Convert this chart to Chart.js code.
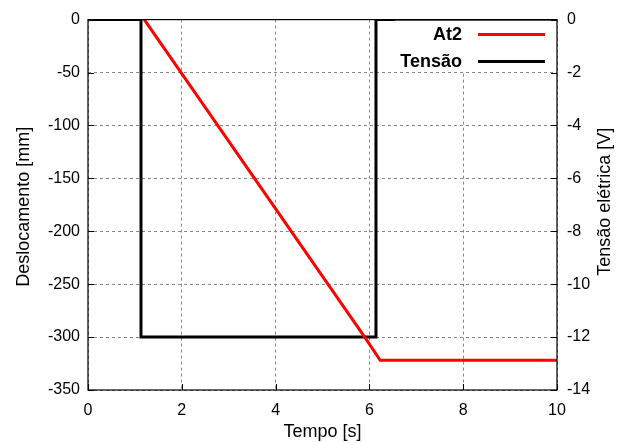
<!DOCTYPE html>
<html>
<head>
<meta charset="utf-8">
<script src="https://cdn.jsdelivr.net/npm/chart.js@4/dist/chart.umd.min.js"></script>
<style>
html,body{margin:0;padding:0;background:#fff;}
#wrap{width:619px;height:442px;}
</style>
</head>
<body>
<div id="wrap"><canvas id="c" width="619" height="442"></canvas></div>
<script>
// Data
const timeDisp = [1.2, 5.9, 6.23, 10];
const dispAt2 = [0, -300, -322, -322];
const timeVolt = [0, 1.13, 1.13, 6.14, 6.14, 10];
const voltTensao = [0, 0, -12, -12, 0, 0];
const seriesNames = ['At2', 'Tensão'];
const xTicks = [0, 2, 4, 6, 8, 10];
const titles = {x: 'Tempo [s]', y: 'Deslocamento [mm]', y2: 'Tensão elétrica [V]'};

const FONT = "'Liberation Sans', Arial, sans-serif";

const legendPlugin = {
  id: 'boxLegend',
  afterDatasetsDraw(chart) {
    const ctx = chart.ctx;
    const a = chart.chartArea;
    ctx.save();
    ctx.fillStyle = '#fff';
    ctx.fillRect(a.right - 162, a.top + 1, 161, 51);
    ctx.font = "bold 18px " + FONT;
    ctx.textAlign = 'right';
    ctx.textBaseline = 'middle';
    const items = [
      {label: seriesNames[0], color: '#ff0000', y: a.top + 15},
      {label: seriesNames[1], color: '#000000', y: a.top + 42}
    ];
    items.forEach(it => {
      ctx.fillStyle = '#000';
      ctx.fillText(it.label, a.right - 95, it.y);
      ctx.strokeStyle = it.color;
      ctx.lineWidth = 3;
      ctx.beginPath();
      ctx.moveTo(a.right - 79, it.y);
      ctx.lineTo(a.right - 12, it.y);
      ctx.stroke();
    });
    ctx.restore();
  }
};

const tickPlugin = {
  id: 'inTicks',
  afterDraw(chart) {
    const ctx = chart.ctx;
    const a = chart.chartArea;
    const s = chart.scales;
    ctx.save();
    ctx.strokeStyle = '#000';
    ctx.lineWidth = 1;
    ctx.beginPath();
    s.x.ticks.forEach(t => {
      const px = Math.round(s.x.getPixelForValue(t.value)) + 0.5;
      ctx.moveTo(px, a.bottom); ctx.lineTo(px, a.bottom - 6);
    });
    s.y.ticks.forEach(t => {
      const py = Math.round(s.y.getPixelForValue(t.value)) + 0.5;
      ctx.moveTo(a.left, py); ctx.lineTo(a.left + 6, py);
    });
    s.y2.ticks.forEach(t => {
      const py = Math.round(s.y2.getPixelForValue(t.value)) + 0.5;
      ctx.moveTo(a.right, py); ctx.lineTo(a.right - 6, py);
    });
    ctx.stroke();
    ctx.lineWidth = 1.2;
    ctx.strokeRect(a.left, a.top, a.right - a.left, a.bottom - a.top);

    // axis titles
    ctx.fillStyle = '#000';
    ctx.font = "18px " + FONT;
    ctx.textAlign = 'center';
    ctx.textBaseline = 'middle';
    const cy = (a.top + a.bottom) / 2;
    ctx.fillText(titles.x, (a.left + a.right) / 2, 432);
    ctx.save();
    ctx.translate(24, cy + 2);
    ctx.rotate(-Math.PI / 2);
    ctx.fillText(titles.y, 0, 0);
    ctx.restore();
    ctx.save();
    ctx.translate(605, cy - 3);
    ctx.rotate(-Math.PI / 2);
    ctx.fillText(titles.y2, 0, 0);
    ctx.restore();
    ctx.restore();
  }
};

new Chart(document.getElementById('c'), {
  type: 'line',
  data: {
    datasets: [
      {
        label: seriesNames[1],
        data: timeVolt.map((t, i) => ({x: t, y: voltTensao[i]})),
        borderColor: '#000000',
        borderWidth: 3,
        pointRadius: 0,
        yAxisID: 'y2',
        tension: 0,
        order: 2
      },
      {
        label: seriesNames[0],
        data: timeDisp.map((t, i) => ({x: t, y: dispAt2[i]})),
        borderColor: '#ff0000',
        borderWidth: 3,
        pointRadius: 0,
        yAxisID: 'y',
        tension: 0,
        order: 1
      }
    ]
  },
  options: {
    responsive: false,
    animation: false,
    layout: {padding: {top: 19, left: 0, right: 0, bottom: 0}},
    plugins: {legend: {display: false}, tooltip: {enabled: false}},
    scales: {
      x: {
        type: 'linear', min: 0, max: 10,
        afterBuildTicks: sc => { sc.ticks = xTicks.map(v => ({value: v})); },
        afterFit: sc => { sc.height = 52; },
        border: {display: false, dash: [3, 3]},
        grid: {color: '#888', lineWidth: 1, tickLength: 0, drawTicks: false},
        ticks: {color: '#000', font: {family: FONT, size: 16}, padding: 11, maxRotation: 0}
      },
      y: {
        type: 'linear', position: 'left', min: -350, max: 0,
        ticks: {stepSize: 50, color: '#000', font: {family: FONT, size: 16}, padding: 8},
        afterFit: sc => { sc.width = 88; },
        border: {display: false, dash: [3, 3]},
        grid: {color: '#888', lineWidth: 1, drawTicks: false, tickLength: 0}
      },
      y2: {
        type: 'linear', position: 'right', min: -14, max: 0,
        ticks: {stepSize: 2, color: '#000', font: {family: FONT, size: 16}, padding: 10},
        afterFit: sc => { sc.width = 62; },
        border: {display: false},
        grid: {drawOnChartArea: false, drawTicks: false, tickLength: 0}
      }
    }
  },
  plugins: [legendPlugin, tickPlugin]
});
</script>
</body>
</html>
